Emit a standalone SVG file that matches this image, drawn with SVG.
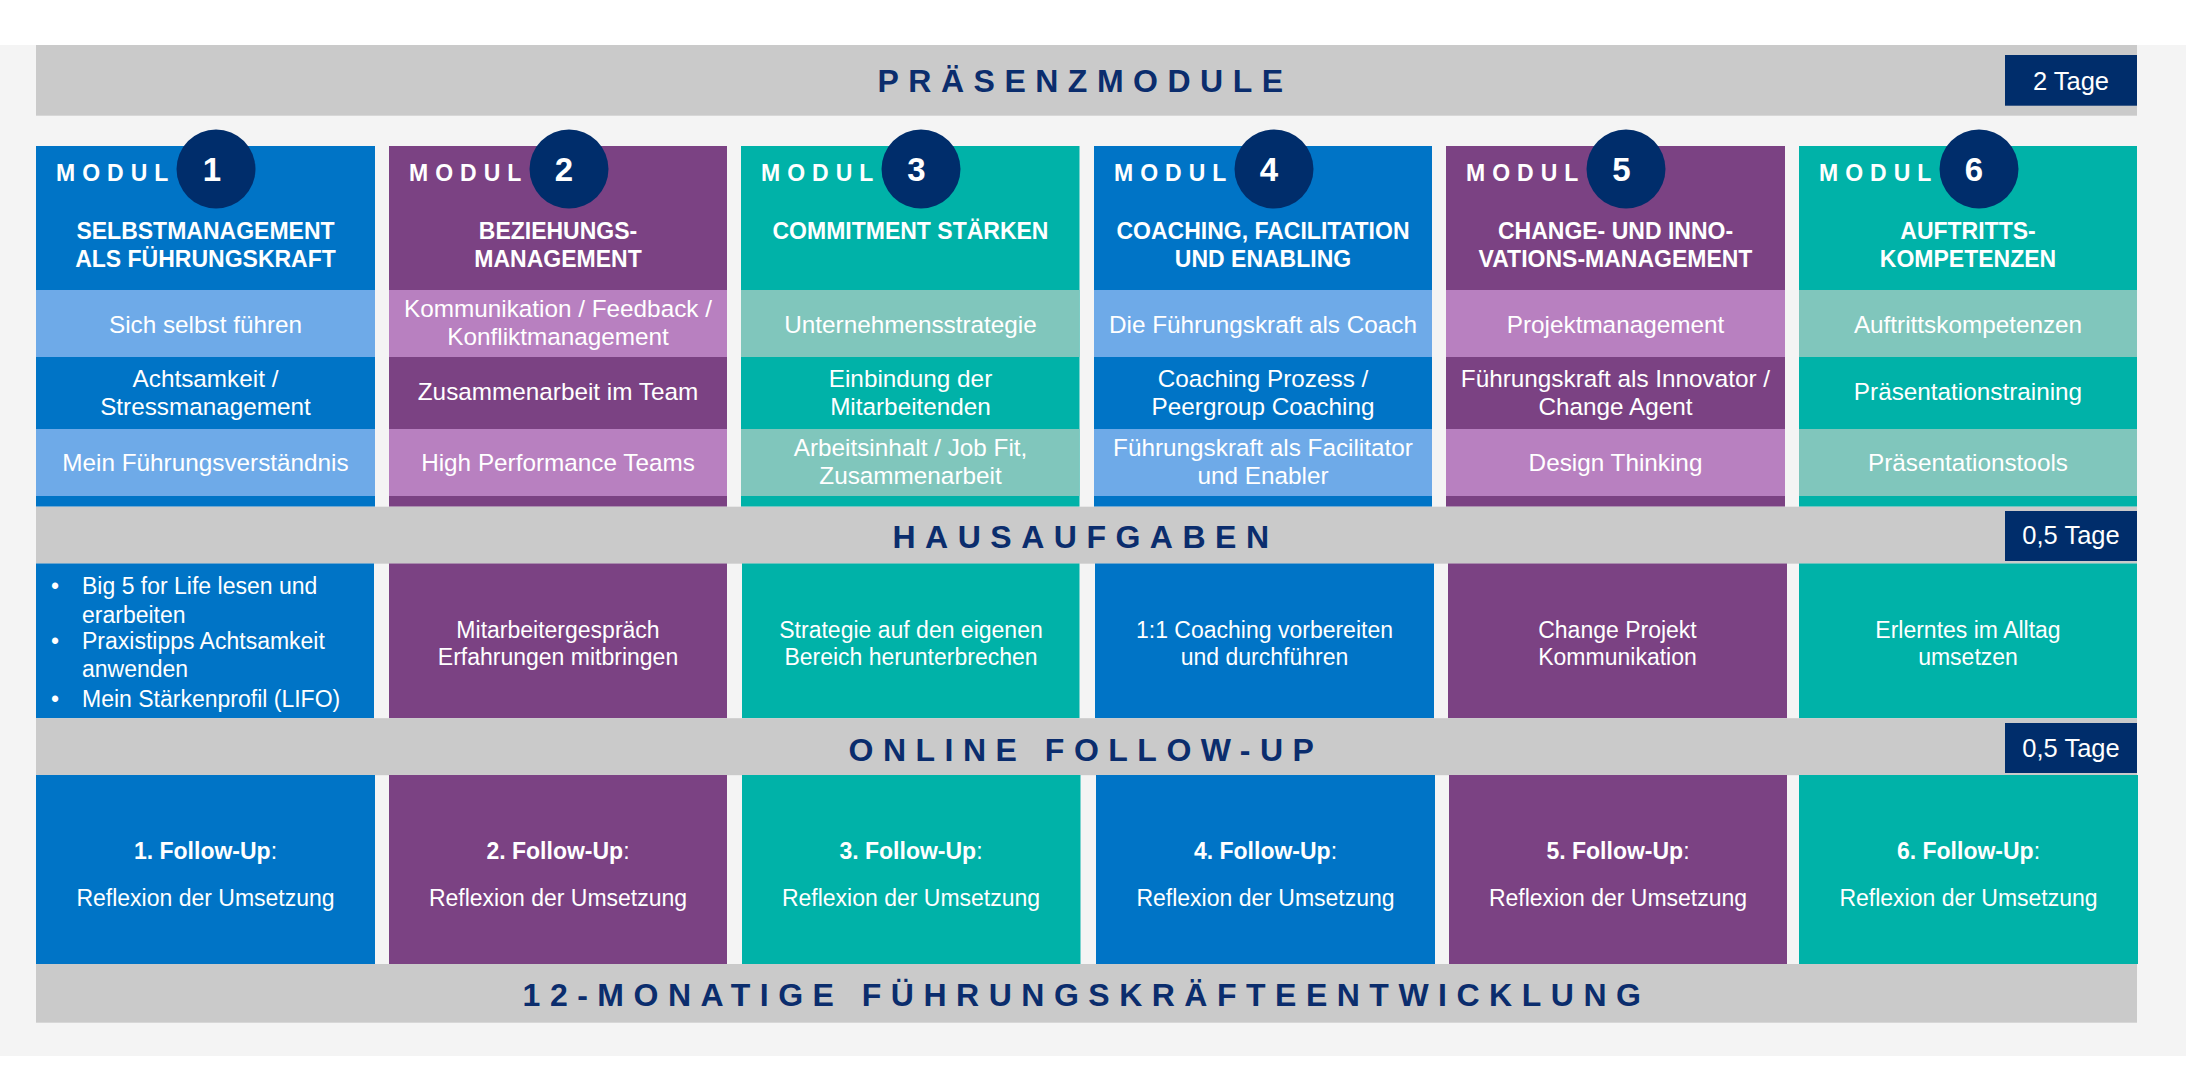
<svg xmlns="http://www.w3.org/2000/svg" width="2186" height="1065" viewBox="0 0 2186 1065">
<style>
text{font-family:"Liberation Sans",Arial,sans-serif;fill:#fff}
.band{fill:#cacaca}
.tag{fill:#002d6b}
.circ{fill:#002d6b}
.bandt{font-weight:bold;font-size:32px;letter-spacing:9.5px;text-anchor:middle;fill:#0b2d6d}
.tagt{font-size:25.5px;text-anchor:middle}
.modl{font-weight:bold;font-size:23px;letter-spacing:7px}
.num{font-weight:bold;font-size:33px;text-anchor:middle}
.ttl{font-weight:bold;font-size:23px;text-anchor:middle}
.row{font-size:24.3px;text-anchor:middle}
.hw{font-size:23px;text-anchor:middle}
.hwl{font-size:23px}
.bold{font-weight:bold}
.bD{fill:#0074c6}.bL{fill:#6eaae8}
.pD{fill:#7b4283}.pL{fill:#b880c0}
.tD{fill:#00b2a8}.tL{fill:#80c6bc}
</style>
<rect x="0" y="0" width="2186" height="1065" fill="#ffffff"/>
<rect x="0" y="45" width="2186" height="1011" fill="#f4f4f4"/>

<g id="band-praesenz">
<rect class="band" x="36" y="45" width="2101" height="70.7"/>
<text class="bandt" x="1085" y="92">PRÄSENZMODULE</text>
<rect class="tag" x="2005" y="55" width="132" height="50.7"/>
<text class="tagt" x="2071" y="90">2 Tage</text>
</g>

<g id="modul1">
<rect class="bD" x="36" y="146" width="339" height="360.7"/>
<rect class="bL" x="36" y="290" width="339" height="67"/>
<rect class="bL" x="36" y="429" width="339" height="67"/>
<text class="modl" x="56" y="181">MODUL</text>
<circle class="circ" cx="216" cy="169" r="39.5"/>
<text class="num" x="212" y="181">1</text>
<text class="ttl" x="205.5" y="238.5">SELBSTMANAGEMENT</text>
<text class="ttl" x="205.5" y="266.5">ALS FÜHRUNGSKRAFT</text>
<text class="row" x="205.5" y="332.7">Sich selbst führen</text>
<text class="row" x="205.5" y="386.7">Achtsamkeit /</text>
<text class="row" x="205.5" y="415">Stressmanagement</text>
<text class="row" x="205.5" y="470.7">Mein Führungsverständnis</text>
</g>

<g id="modul2">
<rect class="pD" x="389" y="146" width="338" height="360.7"/>
<rect class="pL" x="389" y="290" width="338" height="67"/>
<rect class="pL" x="389" y="429" width="338" height="67"/>
<text class="modl" x="409" y="181">MODUL</text>
<circle class="circ" cx="569" cy="169" r="39.5"/>
<text class="num" x="564" y="181">2</text>
<text class="ttl" x="558" y="238.5">BEZIEHUNGS-</text>
<text class="ttl" x="558" y="266.5">MANAGEMENT</text>
<text class="row" x="558" y="316.7">Kommunikation / Feedback /</text>
<text class="row" x="558" y="345">Konfliktmanagement</text>
<text class="row" x="558" y="400">Zusammenarbeit im Team</text>
<text class="row" x="558" y="470.7">High Performance Teams</text>
</g>

<g id="modul3">
<rect class="tD" x="741" y="146" width="338.5" height="360.7"/>
<rect class="tL" x="741" y="290" width="338.5" height="67"/>
<rect class="tL" x="741" y="429" width="338.5" height="67"/>
<text class="modl" x="761" y="181">MODUL</text>
<circle class="circ" cx="921" cy="169" r="39.5"/>
<text class="num" x="916.5" y="181">3</text>
<text class="ttl" x="910.5" y="238.5">COMMITMENT STÄRKEN</text>
<text class="row" x="910.5" y="332.7">Unternehmensstrategie</text>
<text class="row" x="910.5" y="386.7">Einbindung der</text>
<text class="row" x="910.5" y="415">Mitarbeitenden</text>
<text class="row" x="910.5" y="456">Arbeitsinhalt / Job Fit,</text>
<text class="row" x="910.5" y="484">Zusammenarbeit</text>
</g>

<g id="modul4">
<rect class="bD" x="1094" y="146" width="338" height="360.7"/>
<rect class="bL" x="1094" y="290" width="338" height="67"/>
<rect class="bL" x="1094" y="429" width="338" height="67"/>
<text class="modl" x="1114" y="181">MODUL</text>
<circle class="circ" cx="1274" cy="169" r="39.5"/>
<text class="num" x="1269" y="181">4</text>
<text class="ttl" x="1263" y="238.5">COACHING, FACILITATION</text>
<text class="ttl" x="1263" y="266.5">UND ENABLING</text>
<text class="row" x="1263" y="332.7">Die Führungskraft als Coach</text>
<text class="row" x="1263" y="386.7">Coaching Prozess /</text>
<text class="row" x="1263" y="415">Peergroup Coaching</text>
<text class="row" x="1263" y="456">Führungskraft als Facilitator</text>
<text class="row" x="1263" y="484">und Enabler</text>
</g>

<g id="modul5">
<rect class="pD" x="1446" y="146" width="339" height="360.7"/>
<rect class="pL" x="1446" y="290" width="339" height="67"/>
<rect class="pL" x="1446" y="429" width="339" height="67"/>
<text class="modl" x="1466" y="181">MODUL</text>
<circle class="circ" cx="1626" cy="169" r="39.5"/>
<text class="num" x="1621.5" y="181">5</text>
<text class="ttl" x="1615.5" y="238.5">CHANGE- UND INNO-</text>
<text class="ttl" x="1615.5" y="266.5">VATIONS-MANAGEMENT</text>
<text class="row" x="1615.5" y="332.7">Projektmanagement</text>
<text class="row" x="1615.5" y="386.7">Führungskraft als Innovator /</text>
<text class="row" x="1615.5" y="415">Change Agent</text>
<text class="row" x="1615.5" y="470.7">Design Thinking</text>
</g>

<g id="modul6">
<rect class="tD" x="1799" y="146" width="338" height="360.7"/>
<rect class="tL" x="1799" y="290" width="338" height="67"/>
<rect class="tL" x="1799" y="429" width="338" height="67"/>
<text class="modl" x="1819" y="181">MODUL</text>
<circle class="circ" cx="1979" cy="169" r="39.5"/>
<text class="num" x="1974" y="181">6</text>
<text class="ttl" x="1968" y="238.5">AUFTRITTS-</text>
<text class="ttl" x="1968" y="266.5">KOMPETENZEN</text>
<text class="row" x="1968" y="332.7">Auftrittskompetenzen</text>
<text class="row" x="1968" y="400">Präsentationstraining</text>
<text class="row" x="1968" y="470.7">Präsentationstools</text>
</g>

<g id="band-hausaufgaben">
<rect class="band" x="36" y="506.7" width="2101" height="57"/>
<text class="bandt" x="1085.5" y="547.5">HAUSAUFGABEN</text>
<rect class="tag" x="2005" y="511" width="132" height="50"/>
<text class="tagt" x="2071" y="544.3">0,5 Tage</text>
</g>

<g id="hausaufgabe1">
<rect class="bD" x="36" y="563.5" width="338" height="154.7"/>
<text class="hwl" x="55" y="594.3" text-anchor="middle">•</text>
<text class="hwl" x="82" y="594.3">Big 5 for Life lesen und</text>
<text class="hwl" x="82" y="622.7">erarbeiten</text>
<text class="hwl" x="55" y="649.3" text-anchor="middle">•</text>
<text class="hwl" x="82" y="649.3">Praxistipps Achtsamkeit</text>
<text class="hwl" x="82" y="677.3">anwenden</text>
<text class="hwl" x="55" y="706.7" text-anchor="middle">•</text>
<text class="hwl" x="82" y="706.7">Mein Stärkenprofil (LIFO)</text>
</g>
<g id="hausaufgabe2">
<rect class="pD" x="389" y="563.5" width="338" height="154.7"/>
<text class="hw" x="558" y="637.7">Mitarbeitergespräch</text>
<text class="hw" x="558" y="665">Erfahrungen mitbringen</text>
</g>
<g id="hausaufgabe3">
<rect class="tD" x="742" y="563.5" width="337.5" height="154.7"/>
<text class="hw" x="911" y="637.7">Strategie auf den eigenen</text>
<text class="hw" x="911" y="665">Bereich herunterbrechen</text>
</g>
<g id="hausaufgabe4">
<rect class="bD" x="1095" y="563.5" width="339" height="154.7"/>
<text class="hw" x="1264.5" y="637.7">1:1 Coaching vorbereiten</text>
<text class="hw" x="1264.5" y="665">und durchführen</text>
</g>
<g id="hausaufgabe5">
<rect class="pD" x="1448" y="563.5" width="339" height="154.7"/>
<text class="hw" x="1617.5" y="637.7">Change Projekt</text>
<text class="hw" x="1617.5" y="665">Kommunikation</text>
</g>
<g id="hausaufgabe6">
<rect class="tD" x="1799" y="563.5" width="338" height="154.7"/>
<text class="hw" x="1968" y="637.7">Erlerntes im Alltag</text>
<text class="hw" x="1968" y="665">umsetzen</text>
</g>

<g id="band-online">
<rect class="band" x="36" y="718.2" width="2101" height="57"/>
<text class="bandt" x="1086" y="761">ONLINE FOLLOW-UP</text>
<rect class="tag" x="2005" y="723" width="132" height="50"/>
<text class="tagt" x="2071" y="757.3">0,5 Tage</text>
</g>

<g id="followup1">
<rect class="bD" x="36" y="775" width="339" height="189"/>
<text class="hw" x="205.5" y="858.5"><tspan class="bold">1. Follow-Up</tspan>:</text>
<text class="hw" x="205.5" y="906">Reflexion der Umsetzung</text>
</g>
<g id="followup2">
<rect class="pD" x="389" y="775" width="338" height="189"/>
<text class="hw" x="558" y="858.5"><tspan class="bold">2. Follow-Up</tspan>:</text>
<text class="hw" x="558" y="906">Reflexion der Umsetzung</text>
</g>
<g id="followup3">
<rect class="tD" x="742" y="775" width="338.5" height="189"/>
<text class="hw" x="911" y="858.5"><tspan class="bold">3. Follow-Up</tspan>:</text>
<text class="hw" x="911" y="906">Reflexion der Umsetzung</text>
</g>
<g id="followup4">
<rect class="bD" x="1096" y="775" width="339" height="189"/>
<text class="hw" x="1265.5" y="858.5"><tspan class="bold">4. Follow-Up</tspan>:</text>
<text class="hw" x="1265.5" y="906">Reflexion der Umsetzung</text>
</g>
<g id="followup5">
<rect class="pD" x="1449" y="775" width="338" height="189"/>
<text class="hw" x="1618" y="858.5"><tspan class="bold">5. Follow-Up</tspan>:</text>
<text class="hw" x="1618" y="906">Reflexion der Umsetzung</text>
</g>
<g id="followup6">
<rect class="tD" x="1799" y="775" width="339" height="189"/>
<text class="hw" x="1968.5" y="858.5"><tspan class="bold">6. Follow-Up</tspan>:</text>
<text class="hw" x="1968.5" y="906">Reflexion der Umsetzung</text>
</g>

<g id="band-gesamt">
<rect class="band" x="36" y="964" width="2101" height="58.7"/>
<text class="bandt" x="1086.5" y="1006">12-MONATIGE FÜHRUNGSKRÄFTEENTWICKLUNG</text>
</g>
</svg>
